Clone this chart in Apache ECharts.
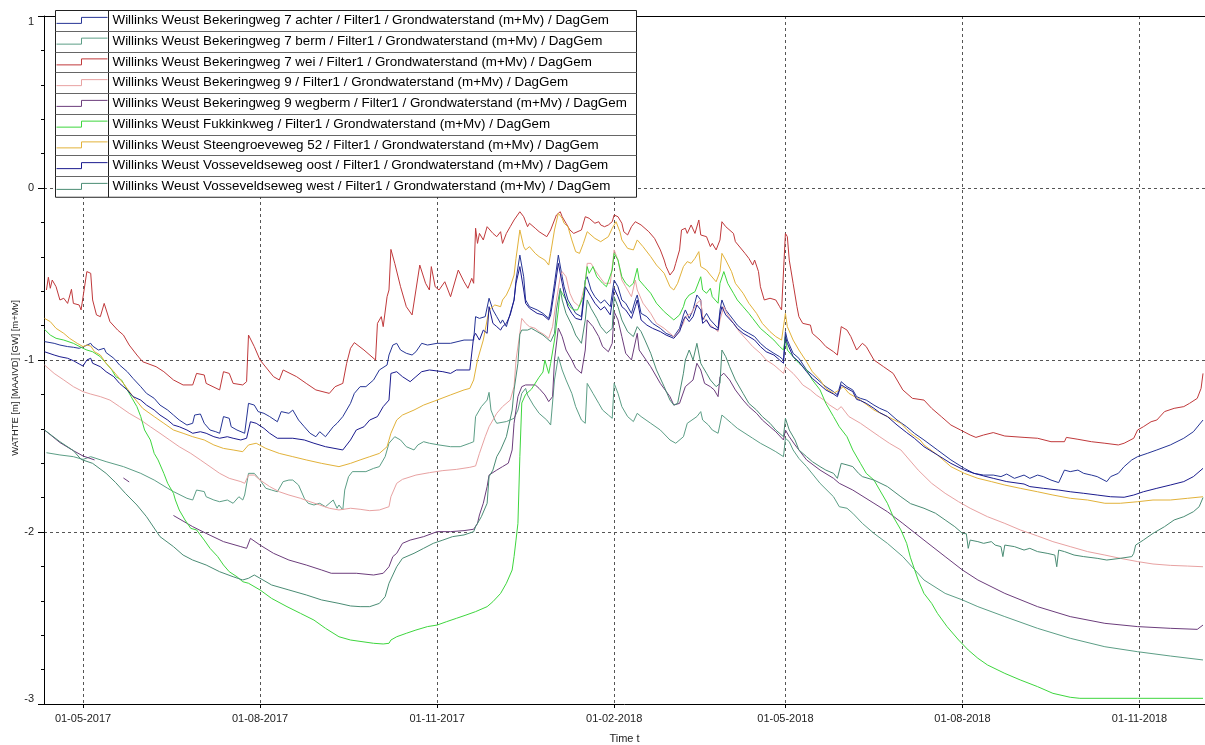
<!DOCTYPE html>
<html><head><meta charset="utf-8">
<script src="https://cdn.jsdelivr.net/npm/echarts@6/dist/echarts.min.js"></script>
<style>html,body{margin:0;padding:0;background:#fff}#chart{width:1205px;height:745px}</style>
</head><body><div id="chart"></div>
<script>
const seriesNames = [
 'Willinks Weust Bekeringweg 7 achter / Filter1 / Grondwaterstand (m+Mv) / DagGem',
 'Willinks Weust Bekeringweg 7 berm / Filter1 / Grondwaterstand (m+Mv) / DagGem',
 'Willinks Weust Bekeringweg 7 wei / Filter1 / Grondwaterstand (m+Mv) / DagGem',
 'Willinks Weust Bekeringweg 9 / Filter1 / Grondwaterstand (m+Mv) / DagGem',
 'Willinks Weust Bekeringweg 9 wegberm / Filter1 / Grondwaterstand (m+Mv) / DagGem',
 'Willinks Weust Fukkinkweg / Filter1 / Grondwaterstand (m+Mv) / DagGem',
 'Willinks Weust Steengroeveweg 52 / Filter1 / Grondwaterstand (m+Mv) / DagGem',
 'Willinks Weust Vosseveldseweg oost / Filter1 / Grondwaterstand (m+Mv) / DagGem',
 'Willinks Weust Vosseveldseweg west / Filter1 / Grondwaterstand (m+Mv) / DagGem'
];
const seriesColors = ['#263596','#5c9e86','#c0393b','#e8a2a2','#6c3d7c','#3ed63e','#e2b23a','#1b1b8e','#4a8c74'];

const achter = [['2017-04-11',-0.893],['2017-04-16',-0.903],['2017-04-19',-0.913],['2017-04-23',-0.922],['2017-04-26',-0.926],['2017-04-29',-0.932],['2017-05-02',-0.919],['2017-05-05',-0.903],['2017-05-06',-0.919],['2017-05-09',-0.942],['2017-05-12',-0.932],['2017-05-13',-0.957],['2017-05-17',-0.99],['2017-05-20',-1.029],['2017-05-24',-1.068],['2017-05-27',-1.107],['2017-05-31',-1.155],['2017-06-03',-1.194],['2017-06-07',-1.223],['2017-06-10',-1.262],['2017-06-14',-1.291],['2017-06-17',-1.32],['2017-06-20',-1.349],['2017-06-24',-1.378],['2017-06-27',-1.368],['2017-06-28',-1.32],['2017-07-01',-1.314],['2017-07-03',-1.368],['2017-07-06',-1.407],['2017-07-09',-1.417],['2017-07-11',-1.426],['2017-07-13',-1.329],['2017-07-16',-1.339],['2017-07-17',-1.388],['2017-07-20',-1.407],['2017-07-24',-1.426],['2017-07-26',-1.252],['2017-07-29',-1.262],['2017-07-31',-1.3],['2017-08-03',-1.31],['2017-08-06',-1.329],['2017-08-10',-1.359],['2017-08-12',-1.3],['2017-08-16',-1.31],['2017-08-18',-1.291],['2017-08-21',-1.349],['2017-08-24',-1.388],['2017-08-27',-1.426],['2017-08-30',-1.446],['2017-09-01',-1.417],['2017-09-04',-1.446],['2017-09-08',-1.388],['2017-09-10',-1.368],['2017-09-13',-1.329],['2017-09-17',-1.252],['2017-09-19',-1.194],['2017-09-22',-1.155],['2017-09-25',-1.155],['2017-09-29',-1.116],['2017-10-02',-1.058],['2017-10-06',-1.029],['2017-10-07',-0.971],['2017-10-09',-0.913],['2017-10-11',-0.903],['2017-10-13',-0.942],['2017-10-16',-0.961],['2017-10-19',-0.971],['2017-10-21',-0.952],['2017-10-24',-0.903],['2017-10-27',-0.913],['2017-11-01',-0.903],['2017-11-08',-0.903],['2017-11-15',-0.884],['2017-11-20',-0.884],['2017-11-21',-0.748],['2017-11-23',-0.758],['2017-11-26',-0.748],['2017-11-28',-0.641],['2017-11-30',-0.709],['2017-12-02',-0.748],['2017-12-04',-0.787],['2017-12-05',-0.767],['2017-12-07',-0.806],['2017-12-09',-0.729],['2017-12-11',-0.651],['2017-12-12',-0.535],['2017-12-14',-0.39],['2017-12-16',-0.516],['2017-12-17',-0.651],['2017-12-19',-0.69],['2017-12-23',-0.709],['2017-12-26',-0.729],['2017-12-29',-0.758],['2017-12-30',-0.709],['2018-01-01',-0.554],['2018-01-03',-0.39],['2018-01-05',-0.516],['2018-01-06',-0.574],['2018-01-08',-0.651],['2018-01-10',-0.69],['2018-01-12',-0.729],['2018-01-15',-0.748],['2018-01-17',-0.535],['2018-01-18',-0.516],['2018-01-20',-0.593],['2018-01-22',-0.632],['2018-01-25',-0.67],['2018-01-27',-0.651],['2018-01-30',-0.69],['2018-02-01',-0.535],['2018-02-03',-0.574],['2018-02-05',-0.651],['2018-02-07',-0.67],['2018-02-10',-0.729],['2018-02-12',-0.651],['2018-02-13',-0.622],['2018-02-15',-0.729],['2018-02-18',-0.748],['2018-02-21',-0.787],['2018-02-25',-0.816],['2018-02-28',-0.845],['2018-03-04',-0.864],['2018-03-07',-0.816],['2018-03-09',-0.738],['2018-03-10',-0.709],['2018-03-12',-0.758],['2018-03-14',-0.709],['2018-03-16',-0.622],['2018-03-18',-0.651],['2018-03-19',-0.767],['2018-03-21',-0.729],['2018-03-23',-0.767],['2018-03-27',-0.816],['2018-03-28',-0.709],['2018-03-29',-0.651],['2018-03-31',-0.709],['2018-04-04',-0.767],['2018-04-06',-0.797],['2018-04-09',-0.826],['2018-04-12',-0.845],['2018-04-15',-0.864],['2018-04-18',-0.903],['2018-04-21',-0.932],['2018-04-25',-0.961],['2018-04-28',-0.981],['2018-04-30',-1.0],['2018-05-01',-0.835],['2018-05-02',-0.884],['2018-05-05',-0.961],['2018-05-08',-0.99],['2018-05-12',-1.058],['2018-05-15',-1.087],['2018-05-19',-1.126],['2018-05-22',-1.155],['2018-05-26',-1.184],['2018-05-28',-1.203],['2018-05-30',-1.126],['2018-06-02',-1.155],['2018-06-05',-1.174],['2018-06-07',-1.213],['2018-06-09',-1.223],['2018-06-12',-1.233],['2018-06-16',-1.262],['2018-06-19',-1.281],['2018-06-23',-1.3],['2018-06-28',-1.349],['2018-07-03',-1.388],['2018-07-07',-1.426],['2018-07-12',-1.465],['2018-07-19',-1.523],['2018-07-26',-1.581],['2018-08-02',-1.63],['2018-08-07',-1.659],['2018-08-12',-1.669],['2018-08-17',-1.669],['2018-08-21',-1.678],['2018-08-24',-1.663],['2018-08-28',-1.688],['2018-09-02',-1.669],['2018-09-05',-1.688],['2018-09-09',-1.669],['2018-09-12',-1.678],['2018-09-16',-1.698],['2018-09-20',-1.713],['2018-09-23',-1.64],['2018-09-26',-1.649],['2018-09-30',-1.64],['2018-10-03',-1.659],['2018-10-07',-1.669],['2018-10-10',-1.678],['2018-10-15',-1.707],['2018-10-17',-1.678],['2018-10-21',-1.659],['2018-10-24',-1.62],['2018-10-28',-1.581],['2018-10-31',-1.562],['2018-11-05',-1.543],['2018-11-10',-1.523],['2018-11-17',-1.494],['2018-11-24',-1.455],['2018-11-29',-1.417],['2018-12-04',-1.349]];

const berm = [['2017-04-12',-1.539],['2017-04-19',-1.552],['2017-04-26',-1.562],['2017-05-01',-1.578],['2017-05-05',-1.562],['2017-05-06',-1.566],['2017-05-13',-1.591],['2017-05-22',-1.62],['2017-05-31',-1.659],['2017-06-07',-1.698],['2017-06-14',-1.746],['2017-06-17',-1.765],['2017-06-24',-1.804],['2017-06-27',-1.814],['2017-06-29',-1.756],['2017-07-03',-1.765],['2017-07-04',-1.795],['2017-07-08',-1.814],['2017-07-11',-1.824],['2017-07-15',-1.814],['2017-07-18',-1.833],['2017-07-21',-1.795],['2017-07-23',-1.814],['2017-07-24',-1.785],['2017-07-26',-1.659],['2017-07-29',-1.659],['2017-08-01',-1.698],['2017-08-04',-1.746],['2017-08-07',-1.756],['2017-08-10',-1.766],['2017-08-13',-1.707],['2017-08-16',-1.698],['2017-08-18',-1.698],['2017-08-21',-1.727],['2017-08-24',-1.804],['2017-08-26',-1.833],['2017-08-29',-1.843],['2017-09-01',-1.833],['2017-09-04',-1.853],['2017-09-08',-1.814],['2017-09-10',-1.862],['2017-09-11',-1.843],['2017-09-13',-1.872],['2017-09-14',-1.756],['2017-09-16',-1.678],['2017-09-18',-1.649],['2017-09-25',-1.649],['2017-09-29',-1.63],['2017-10-02',-1.62],['2017-10-05',-1.562],['2017-10-07',-1.484],['2017-10-10',-1.446],['2017-10-13',-1.465],['2017-10-16',-1.504],['2017-10-20',-1.523],['2017-10-22',-1.494],['2017-10-25',-1.475],['2017-10-28',-1.484],['2017-11-02',-1.494],['2017-11-08',-1.504],['2017-11-13',-1.504],['2017-11-18',-1.484],['2017-11-20',-1.475],['2017-11-21',-1.329],['2017-11-24',-1.271],['2017-11-27',-1.233],['2017-11-28',-1.188],['2017-11-29',-1.291],['2017-12-01',-1.349],['2017-12-02',-1.368],['2017-12-07',-1.358],['2017-12-11',-1.339],['2017-12-13',-1.291],['2017-12-15',-1.194],['2017-12-17',-1.165],['2017-12-18',-1.204],['2017-12-21',-1.262],['2017-12-24',-1.31],['2017-12-28',-1.349],['2017-12-30',-1.378],['2018-01-01',-1.116],['2018-01-03',-0.981],['2018-01-05',-1.058],['2018-01-07',-1.116],['2018-01-10',-1.194],['2018-01-12',-1.271],['2018-01-15',-1.349],['2018-01-17',-1.368],['2018-01-18',-1.136],['2018-01-21',-1.194],['2018-01-24',-1.252],['2018-01-26',-1.291],['2018-01-29',-1.32],['2018-01-31',-1.339],['2018-02-01',-1.136],['2018-02-03',-1.194],['2018-02-05',-1.271],['2018-02-08',-1.329],['2018-02-11',-1.358],['2018-02-13',-1.31],['2018-02-15',-1.329],['2018-02-20',-1.368],['2018-02-25',-1.407],['2018-03-02',-1.465],['2018-03-05',-1.484],['2018-03-09',-1.446],['2018-03-11',-1.368],['2018-03-16',-1.329],['2018-03-18',-1.3],['2018-03-19',-1.349],['2018-03-22',-1.378],['2018-03-24',-1.407],['2018-03-27',-1.426],['2018-03-29',-1.32],['2018-03-31',-1.339],['2018-04-03',-1.368],['2018-04-06',-1.397],['2018-04-10',-1.426],['2018-04-14',-1.455],['2018-04-18',-1.484],['2018-04-23',-1.514],['2018-04-26',-1.533],['2018-04-30',-1.562],['2018-05-01',-1.455],['2018-05-03',-1.475],['2018-05-05',-1.523],['2018-05-08',-1.572],['2018-05-12',-1.62],['2018-05-19',-1.717],['2018-05-26',-1.795],['2018-05-29',-1.853],['2018-06-02',-1.862],['2018-06-05',-1.891],['2018-06-10',-1.95],['2018-06-16',-2.008],['2018-06-23',-2.066],['2018-07-01',-2.143],['2018-07-12',-2.279],['2018-07-23',-2.357],['2018-08-01',-2.395],['2018-08-09',-2.434],['2018-08-23',-2.492],['2018-09-09',-2.56],['2018-09-26',-2.618],['2018-10-14',-2.667],['2018-10-31',-2.696],['2018-11-17',-2.721],['2018-12-04',-2.744]];

const wei = [['2017-04-12',-0.593],['2017-04-13',-0.519],['2017-04-14',-0.583],['2017-04-15',-0.535],['2017-04-16',-0.525],['2017-04-17',-0.574],['2017-04-19',-0.651],['2017-04-21',-0.641],['2017-04-23',-0.671],['2017-04-25',-0.589],['2017-04-26',-0.671],['2017-04-29',-0.68],['2017-04-30',-0.709],['2017-05-03',-0.486],['2017-05-05',-0.496],['2017-05-06',-0.651],['2017-05-08',-0.738],['2017-05-10',-0.748],['2017-05-12',-0.671],['2017-05-13',-0.68],['2017-05-15',-0.777],['2017-05-19',-0.826],['2017-05-22',-0.855],['2017-05-25',-0.913],['2017-05-29',-0.971],['2017-06-01',-1.01],['2017-06-08',-1.039],['2017-06-12',-1.068],['2017-06-17',-1.116],['2017-06-22',-1.145],['2017-06-27',-1.145],['2017-06-29',-1.078],['2017-07-03',-1.087],['2017-07-04',-1.136],['2017-07-11',-1.174],['2017-07-13',-1.068],['2017-07-16',-1.078],['2017-07-18',-1.136],['2017-07-23',-1.145],['2017-07-25',-1.126],['2017-07-26',-0.855],['2017-07-29',-0.922],['2017-08-01',-1.0],['2017-08-08',-1.097],['2017-08-11',-1.116],['2017-08-13',-1.058],['2017-08-20',-1.097],['2017-08-25',-1.136],['2017-08-30',-1.174],['2017-09-06',-1.194],['2017-09-09',-1.155],['2017-09-13',-1.136],['2017-09-15',-1.019],['2017-09-17',-0.932],['2017-09-19',-0.899],['2017-09-24',-0.942],['2017-09-30',-1.0],['2017-10-01',-0.787],['2017-10-03',-0.748],['2017-10-04',-0.806],['2017-10-06',-0.632],['2017-10-07',-0.593],['2017-10-08',-0.357],['2017-10-10',-0.438],['2017-10-13',-0.574],['2017-10-16',-0.69],['2017-10-19',-0.738],['2017-10-21',-0.593],['2017-10-23',-0.448],['2017-10-26',-0.554],['2017-10-28',-0.593],['2017-10-29',-0.457],['2017-10-31',-0.574],['2017-11-02',-0.593],['2017-11-05',-0.545],['2017-11-08',-0.632],['2017-11-09',-0.636],['2017-11-12',-0.477],['2017-11-15',-0.545],['2017-11-17',-0.583],['2017-11-19',-0.525],['2017-11-20',-0.554],['2017-11-21',-0.234],['2017-11-22',-0.322],['2017-11-23',-0.264],['2017-11-25',-0.302],['2017-11-27',-0.225],['2017-11-28',-0.215],['2017-11-30',-0.264],['2017-12-02',-0.283],['2017-12-04',-0.254],['2017-12-05',-0.322],['2017-12-07',-0.264],['2017-12-09',-0.225],['2017-12-11',-0.186],['2017-12-12',-0.176],['2017-12-14',-0.138],['2017-12-16',-0.167],['2017-12-18',-0.225],['2017-12-19',-0.205],['2017-12-22',-0.234],['2017-12-24',-0.254],['2017-12-28',-0.283],['2017-12-30',-0.244],['2018-01-02',-0.157],['2018-01-04',-0.138],['2018-01-05',-0.167],['2018-01-07',-0.205],['2018-01-09',-0.244],['2018-01-11',-0.264],['2018-01-12',-0.273],['2018-01-15',-0.244],['2018-01-17',-0.167],['2018-01-19',-0.176],['2018-01-22',-0.205],['2018-01-24',-0.196],['2018-01-25',-0.215],['2018-01-27',-0.225],['2018-01-29',-0.215],['2018-01-31',-0.196],['2018-02-01',-0.157],['2018-02-03',-0.167],['2018-02-05',-0.205],['2018-02-06',-0.254],['2018-02-08',-0.273],['2018-02-10',-0.225],['2018-02-12',-0.196],['2018-02-15',-0.215],['2018-02-19',-0.254],['2018-02-22',-0.293],['2018-02-25',-0.36],['2018-02-27',-0.419],['2018-02-28',-0.457],['2018-03-02',-0.506],['2018-03-04',-0.477],['2018-03-05',-0.438],['2018-03-07',-0.36],['2018-03-08',-0.244],['2018-03-10',-0.234],['2018-03-11',-0.264],['2018-03-13',-0.215],['2018-03-15',-0.264],['2018-03-17',-0.186],['2018-03-18',-0.273],['2018-03-21',-0.283],['2018-03-23',-0.341],['2018-03-24',-0.322],['2018-03-26',-0.36],['2018-03-28',-0.302],['2018-03-29',-0.196],['2018-03-31',-0.225],['2018-04-04',-0.264],['2018-04-05',-0.312],['2018-04-10',-0.38],['2018-04-12',-0.409],['2018-04-14',-0.448],['2018-04-15',-0.419],['2018-04-17',-0.486],['2018-04-18',-0.574],['2018-04-20',-0.651],['2018-04-23',-0.641],['2018-04-26',-0.651],['2018-04-28',-0.69],['2018-04-29',-0.709],['2018-05-01',-0.264],['2018-05-02',-0.283],['2018-05-03',-0.419],['2018-05-05',-0.554],['2018-05-07',-0.69],['2018-05-08',-0.748],['2018-05-10',-0.787],['2018-05-14',-0.797],['2018-05-15',-0.845],['2018-05-19',-0.884],['2018-05-22',-0.922],['2018-05-26',-0.952],['2018-05-28',-0.971],['2018-05-30',-0.806],['2018-06-02',-0.826],['2018-06-04',-0.864],['2018-06-07',-0.942],['2018-06-10',-0.903],['2018-06-12',-0.922],['2018-06-16',-1.0],['2018-06-21',-1.039],['2018-06-26',-1.078],['2018-07-01',-1.174],['2018-07-06',-1.223],['2018-07-12',-1.233],['2018-07-16',-1.281],['2018-07-21',-1.329],['2018-07-26',-1.378],['2018-07-31',-1.407],['2018-08-05',-1.436],['2018-08-08',-1.45],['2018-08-12',-1.436],['2018-08-17',-1.422],['2018-08-23',-1.442],['2018-09-02',-1.45],['2018-09-09',-1.455],['2018-09-16',-1.475],['2018-09-23',-1.475],['2018-09-24',-1.45],['2018-09-30',-1.461],['2018-10-07',-1.475],['2018-10-14',-1.484],['2018-10-21',-1.494],['2018-10-24',-1.484],['2018-10-29',-1.455],['2018-10-31',-1.407],['2018-11-03',-1.388],['2018-11-07',-1.359],['2018-11-10',-1.349],['2018-11-14',-1.3],['2018-11-19',-1.281],['2018-11-24',-1.271],['2018-11-27',-1.252],['2018-12-01',-1.223],['2018-12-03',-1.165],['2018-12-04',-1.078]];

const bek9 = [['2017-04-11',-1.029],['2017-04-16',-1.078],['2017-04-21',-1.116],['2017-04-26',-1.155],['2017-05-01',-1.184],['2017-05-05',-1.198],['2017-05-10',-1.213],['2017-05-15',-1.233],['2017-05-20',-1.271],['2017-05-25',-1.31],['2017-05-31',-1.349],['2017-06-05',-1.388],['2017-06-10',-1.426],['2017-06-15',-1.465],['2017-06-20',-1.504],['2017-06-26',-1.543],['2017-07-01',-1.581],['2017-07-06',-1.62],['2017-07-11',-1.659],['2017-07-16',-1.688],['2017-07-22',-1.707],['2017-07-24',-1.717],['2017-07-26',-1.669],['2017-07-29',-1.669],['2017-08-01',-1.698],['2017-08-06',-1.736],['2017-08-11',-1.766],['2017-08-16',-1.785],['2017-08-22',-1.804],['2017-08-27',-1.824],['2017-09-01',-1.843],['2017-09-06',-1.862],['2017-09-11',-1.872],['2017-09-17',-1.862],['2017-09-22',-1.868],['2017-09-27',-1.876],['2017-10-02',-1.872],['2017-10-07',-1.853],['2017-10-08',-1.795],['2017-10-11',-1.717],['2017-10-14',-1.694],['2017-10-21',-1.669],['2017-10-28',-1.655],['2017-11-04',-1.643],['2017-11-11',-1.636],['2017-11-18',-1.624],['2017-11-21',-1.616],['2017-11-23',-1.543],['2017-11-26',-1.446],['2017-11-28',-1.388],['2017-12-02',-1.31],['2017-12-05',-1.271],['2017-12-09',-1.233],['2017-12-11',-1.155],['2017-12-12',-1.0],['2017-12-14',-0.845],['2017-12-15',-0.758],['2017-12-17',-0.787],['2017-12-19',-0.806],['2017-12-22',-0.816],['2017-12-24',-0.835],['2017-12-27',-0.855],['2017-12-29',-0.874],['2017-12-31',-0.806],['2018-01-02',-0.651],['2018-01-04',-0.516],['2018-01-05',-0.486],['2018-01-07',-0.516],['2018-01-09',-0.612],['2018-01-11',-0.661],['2018-01-14',-0.69],['2018-01-17',-0.554],['2018-01-18',-0.438],['2018-01-20',-0.438],['2018-01-22',-0.477],['2018-01-25',-0.525],['2018-01-27',-0.554],['2018-01-30',-0.554],['2018-02-01',-0.36],['2018-02-03',-0.419],['2018-02-05',-0.535],['2018-02-07',-0.574],['2018-02-10',-0.632],['2018-02-12',-0.535],['2018-02-13',-0.593],['2018-02-16',-0.67],['2018-02-20',-0.729],['2018-02-23',-0.787],['2018-02-27',-0.816],['2018-03-02',-0.845],['2018-03-04',-0.864],['2018-03-06',-0.845],['2018-03-09',-0.787],['2018-03-10',-0.748],['2018-03-13',-0.729],['2018-03-16',-0.67],['2018-03-18',-0.651],['2018-03-19',-0.748],['2018-03-22',-0.787],['2018-03-24',-0.806],['2018-03-27',-0.835],['2018-03-28',-0.767],['2018-03-30',-0.69],['2018-04-01',-0.738],['2018-04-04',-0.787],['2018-04-07',-0.835],['2018-04-11',-0.884],['2018-04-14',-0.922],['2018-04-18',-0.961],['2018-04-21',-1.0],['2018-04-25',-1.029],['2018-04-28',-1.058],['2018-04-30',-1.078],['2018-05-01',-1.039],['2018-05-02',-1.048],['2018-05-05',-1.078],['2018-05-08',-1.116],['2018-05-10',-1.145],['2018-05-14',-1.174],['2018-05-17',-1.203],['2018-05-21',-1.233],['2018-05-24',-1.262],['2018-05-28',-1.291],['2018-05-30',-1.271],['2018-06-03',-1.329],['2018-06-09',-1.368],['2018-06-14',-1.407],['2018-06-19',-1.446],['2018-06-24',-1.484],['2018-06-30',-1.523],['2018-07-09',-1.64],['2018-07-16',-1.717],['2018-07-23',-1.775],['2018-07-30',-1.824],['2018-08-05',-1.862],['2018-08-14',-1.911],['2018-08-23',-1.95],['2018-08-31',-1.988],['2018-09-09',-2.023],['2018-09-17',-2.056],['2018-09-26',-2.085],['2018-10-05',-2.114],['2018-10-14',-2.134],['2018-10-22',-2.153],['2018-10-31',-2.172],['2018-11-08',-2.186],['2018-11-17',-2.194],['2018-11-26',-2.198],['2018-12-04',-2.202]];

const wegberm = [['2017-04-11',-1.407],['2017-04-19',-1.48],['2017-04-26',-1.527],['2017-05-01',-1.558],['2017-05-07',-1.581],['2017-05-14','-'],['2017-05-22',-1.686],['2017-05-25',-1.709],['2017-06-05','-'],['2017-06-17',-1.904],['2017-06-27',-1.969],['2017-07-04',-2.008],['2017-07-13',-2.056],['2017-07-22',-2.085],['2017-07-25',-2.095],['2017-07-27',-2.037],['2017-08-01',-2.076],['2017-08-08',-2.124],['2017-08-16',-2.163],['2017-08-25',-2.192],['2017-09-02',-2.221],['2017-09-07',-2.24],['2017-09-20',-2.24],['2017-09-29',-2.25],['2017-10-04',-2.24],['2017-10-07',-2.202],['2017-10-09',-2.143],['2017-10-11',-2.124],['2017-10-14',-2.066],['2017-10-18',-2.047],['2017-10-25',-2.027],['2017-11-01',-1.998],['2017-11-08',-1.998],['2017-11-15',-1.992],['2017-11-20',-1.984],['2017-11-22',-1.95],['2017-11-23',-1.901],['2017-11-25',-1.833],['2017-11-27',-1.736],['2017-11-28',-1.669],['2017-12-02',-1.64],['2017-12-05',-1.62],['2017-12-08',-1.6],['2017-12-10',-1.523],['2017-12-11',-1.368],['2017-12-13',-1.213],['2017-12-15',-1.155],['2017-12-17',-1.145],['2017-12-22',-1.145],['2017-12-24',-1.165],['2017-12-27',-1.203],['2017-12-29',-1.242],['2017-12-31',-1.213],['2018-01-01',-1.0],['2018-01-03',-0.814],['2018-01-05',-0.864],['2018-01-07',-0.942],['2018-01-10',-1.0],['2018-01-12',-1.048],['2018-01-15',-1.077],['2018-01-17',-0.942],['2018-01-18',-0.767],['2018-01-21',-0.806],['2018-01-24',-0.864],['2018-01-26',-0.922],['2018-01-29',-0.952],['2018-01-31',-0.903],['2018-02-01',-0.719],['2018-02-03',-0.767],['2018-02-05',-0.864],['2018-02-07',-0.961],['2018-02-10',-1.0],['2018-02-13',-0.845],['2018-02-14',-0.942],['2018-02-20',-1.039],['2018-02-25',-1.136],['2018-03-02',-1.213],['2018-03-04',-1.262],['2018-03-07',-1.252],['2018-03-10',-1.155],['2018-03-14',-1.116],['2018-03-16',-1.019],['2018-03-18',-1.058],['2018-03-20',-1.136],['2018-03-23',-1.155],['2018-03-25',-1.174],['2018-03-27',-1.213],['2018-03-28',-1.097],['2018-03-30',-1.077],['2018-04-02',-1.116],['2018-04-05',-1.174],['2018-04-09',-1.233],['2018-04-12',-1.271],['2018-04-16',-1.31],['2018-04-19',-1.349],['2018-04-23',-1.388],['2018-04-26',-1.417],['2018-04-30',-1.465],['2018-05-01',-1.407],['2018-05-03',-1.446],['2018-05-06',-1.494],['2018-05-12',-1.581],['2018-05-19',-1.64],['2018-05-26',-1.688],['2018-05-29',-1.717],['2018-06-05',-1.756],['2018-06-16',-1.833],['2018-06-23',-1.882],['2018-07-01',-1.95],['2018-07-12',-2.047],['2018-07-23',-2.143],['2018-08-01',-2.221],['2018-08-09',-2.279],['2018-08-23',-2.357],['2018-09-09',-2.434],['2018-09-26',-2.492],['2018-10-14',-2.531],['2018-10-31',-2.55],['2018-11-17',-2.56],['2018-12-01',-2.566],['2018-12-04',-2.541]];

const fukkink = [['2017-04-11',-0.822],['2017-04-14',-0.855],['2017-04-17',-0.874],['2017-04-21',-0.884],['2017-04-26',-0.903],['2017-05-01',-0.932],['2017-05-03',-0.942],['2017-05-06',-0.952],['2017-05-10',-0.981],['2017-05-13',-1.019],['2017-05-16',-1.058],['2017-05-18',-1.097],['2017-05-21',-1.116],['2017-05-24',-1.174],['2017-05-26',-1.213],['2017-05-29',-1.271],['2017-05-31',-1.329],['2017-06-02',-1.407],['2017-06-05',-1.465],['2017-06-07',-1.543],['2017-06-09',-1.581],['2017-06-12',-1.659],['2017-06-14',-1.717],['2017-06-17',-1.775],['2017-06-18',-1.814],['2017-06-20',-1.872],['2017-06-23',-1.93],['2017-06-26',-1.979],['2017-06-29',-1.988],['2017-07-03',-2.047],['2017-07-06',-2.095],['2017-07-10',-2.143],['2017-07-13',-2.192],['2017-07-16',-2.231],['2017-07-20',-2.26],['2017-07-23',-2.289],['2017-07-26',-2.298],['2017-08-01',-2.337],['2017-08-07',-2.386],['2017-08-15',-2.434],['2017-08-22',-2.473],['2017-08-29',-2.512],['2017-09-04',-2.56],['2017-09-11',-2.609],['2017-09-17',-2.628],['2017-09-29',-2.647],['2017-10-04',-2.651],['2017-10-07',-2.647],['2017-10-08',-2.628],['2017-10-11',-2.609],['2017-10-16',-2.589],['2017-10-21',-2.57],['2017-10-27',-2.55],['2017-11-01',-2.541],['2017-11-06',-2.521],['2017-11-11',-2.502],['2017-11-16',-2.483],['2017-11-21',-2.463],['2017-11-27',-2.434],['2017-11-30',-2.405],['2017-12-04',-2.357],['2017-12-07',-2.298],['2017-12-10',-2.221],['2017-12-11',-2.143],['2017-12-12',-2.047],['2017-12-13',-1.95],['2017-12-14',-1.562],['2017-12-15',-1.25],['2017-12-17',-1.2],['2017-12-20',-1.17],['2017-12-24',-1.1],['2017-12-26',-1.07],['2017-12-27',-1.0],['2017-12-29',-1.078],['2017-12-30',-1.019],['2018-01-01',-0.884],['2018-01-03',-0.709],['2018-01-04',-0.593],['2018-01-05',-0.612],['2018-01-07',-0.651],['2018-01-09',-0.69],['2018-01-11',-0.709],['2018-01-13',-0.709],['2018-01-16',-0.632],['2018-01-18',-0.457],['2018-01-19',-0.496],['2018-01-21',-0.457],['2018-01-23',-0.516],['2018-01-26',-0.554],['2018-01-28',-0.574],['2018-01-31',-0.477],['2018-02-01',-0.38],['2018-02-03',-0.419],['2018-02-05',-0.516],['2018-02-07',-0.554],['2018-02-09',-0.574],['2018-02-11',-0.554],['2018-02-13',-0.467],['2018-02-14',-0.535],['2018-02-17',-0.574],['2018-02-20',-0.612],['2018-02-23',-0.67],['2018-02-27',-0.719],['2018-03-02',-0.748],['2018-03-04',-0.767],['2018-03-07',-0.738],['2018-03-09',-0.69],['2018-03-10',-0.651],['2018-03-12',-0.622],['2018-03-15',-0.603],['2018-03-18',-0.516],['2018-03-19',-0.593],['2018-03-21',-0.612],['2018-03-23',-0.583],['2018-03-24',-0.632],['2018-03-27',-0.67],['2018-03-28',-0.554],['2018-03-30',-0.486],['2018-04-01',-0.554],['2018-04-04',-0.612],['2018-04-06',-0.651],['2018-04-09',-0.69],['2018-04-12',-0.729],['2018-04-14',-0.758],['2018-04-18',-0.816],['2018-04-21',-0.845],['2018-04-25',-0.884],['2018-04-28',-0.922],['2018-04-30',-0.942],['2018-05-01',-0.864],['2018-05-02',-0.942],['2018-05-05',-0.981],['2018-05-08',-1.019],['2018-05-12',-1.058],['2018-05-15',-1.116],['2018-05-19',-1.174],['2018-05-22',-1.252],['2018-05-26',-1.329],['2018-05-29',-1.388],['2018-06-02',-1.446],['2018-06-05',-1.523],['2018-06-09',-1.601],['2018-06-12',-1.659],['2018-06-16',-1.698],['2018-06-19',-1.756],['2018-06-23',-1.833],['2018-06-26',-1.911],['2018-06-30',-1.988],['2018-07-03',-2.066],['2018-07-05',-2.15],['2018-07-09',-2.279],['2018-07-12',-2.357],['2018-07-16',-2.415],['2018-07-19',-2.473],['2018-07-24',-2.55],['2018-07-30',-2.628],['2018-08-04',-2.686],['2018-08-09',-2.734],['2018-08-14',-2.773],['2018-08-23',-2.822],['2018-08-31',-2.86],['2018-09-09',-2.899],['2018-09-17',-2.938],['2018-09-26',-2.961],['2018-10-01',-2.967],['2018-10-31',-2.967],['2018-12-04',-2.967]];

const steengroeve = [['2017-04-11',-0.758],['2017-04-14',-0.777],['2017-04-17',-0.816],['2017-04-21',-0.845],['2017-04-24',-0.874],['2017-04-28',-0.903],['2017-05-01',-0.922],['2017-05-03',-0.913],['2017-05-05',-0.919],['2017-05-07',-0.952],['2017-05-10',-0.971],['2017-05-13',-1.019],['2017-05-17',-1.068],['2017-05-22',-1.136],['2017-05-27',-1.213],['2017-06-01',-1.281],['2017-06-07',-1.329],['2017-06-12',-1.368],['2017-06-17',-1.407],['2017-06-22',-1.426],['2017-06-27',-1.446],['2017-07-03',-1.465],['2017-07-08',-1.494],['2017-07-13',-1.514],['2017-07-18',-1.523],['2017-07-23',-1.533],['2017-07-26',-1.494],['2017-07-30',-1.484],['2017-08-04',-1.514],['2017-08-11',-1.543],['2017-08-18',-1.562],['2017-08-25',-1.581],['2017-09-02',-1.601],['2017-09-11',-1.62],['2017-09-17',-1.601],['2017-09-22',-1.581],['2017-09-27',-1.562],['2017-10-02',-1.543],['2017-10-06',-1.504],['2017-10-08',-1.426],['2017-10-11',-1.349],['2017-10-14',-1.32],['2017-10-20',-1.291],['2017-10-25',-1.262],['2017-11-01',-1.233],['2017-11-08',-1.203],['2017-11-15',-1.174],['2017-11-18',-1.165],['2017-11-20',-1.116],['2017-11-22',-1.0],['2017-11-25',-0.884],['2017-11-28',-0.709],['2017-12-01',-0.68],['2017-12-04',-0.69],['2017-12-05',-0.651],['2017-12-07',-0.622],['2017-12-09',-0.574],['2017-12-11',-0.506],['2017-12-12',-0.409],['2017-12-14',-0.244],['2017-12-16',-0.341],['2017-12-17',-0.36],['2017-12-19',-0.341],['2017-12-22',-0.38],['2017-12-24',-0.399],['2017-12-27',-0.419],['2017-12-29',-0.448],['2017-12-30',-0.38],['2018-01-01',-0.244],['2018-01-03',-0.147],['2018-01-05',-0.176],['2018-01-06',-0.205],['2018-01-08',-0.225],['2018-01-10',-0.302],['2018-01-12',-0.37],['2018-01-14',-0.38],['2018-01-16',-0.322],['2018-01-18',-0.254],['2018-01-19',-0.264],['2018-01-22',-0.293],['2018-01-25',-0.312],['2018-01-26',-0.322],['2018-01-29',-0.283],['2018-01-31',-0.234],['2018-02-02',-0.196],['2018-02-04',-0.254],['2018-02-05',-0.302],['2018-02-08',-0.351],['2018-02-11',-0.36],['2018-02-13',-0.302],['2018-02-16',-0.341],['2018-02-20',-0.399],['2018-02-23',-0.448],['2018-02-27',-0.496],['2018-03-02',-0.574],['2018-03-04',-0.593],['2018-03-06',-0.554],['2018-03-09',-0.457],['2018-03-11',-0.428],['2018-03-13',-0.438],['2018-03-15',-0.409],['2018-03-17',-0.37],['2018-03-18',-0.457],['2018-03-21',-0.477],['2018-03-23',-0.506],['2018-03-26',-0.545],['2018-03-28',-0.486],['2018-03-29',-0.38],['2018-03-31',-0.419],['2018-04-03',-0.486],['2018-04-05',-0.554],['2018-04-09',-0.612],['2018-04-12',-0.67],['2018-04-16',-0.729],['2018-04-19',-0.787],['2018-04-23',-0.835],['2018-04-26',-0.864],['2018-04-29',-0.884],['2018-05-01',-0.729],['2018-05-02',-0.806],['2018-05-05',-0.884],['2018-05-08',-0.942],['2018-05-12',-1.01],['2018-05-15',-1.068],['2018-05-19',-1.116],['2018-05-22',-1.165],['2018-05-26',-1.194],['2018-05-29',-1.174],['2018-05-31',-1.155],['2018-06-03',-1.194],['2018-06-09',-1.233],['2018-06-16',-1.291],['2018-06-23',-1.329],['2018-06-30',-1.368],['2018-07-05',-1.426],['2018-07-10',-1.465],['2018-07-12',-1.494],['2018-07-19',-1.552],['2018-07-26',-1.62],['2018-08-02',-1.659],['2018-08-09',-1.688],['2018-08-16',-1.707],['2018-08-23',-1.727],['2018-08-31',-1.746],['2018-09-09',-1.766],['2018-09-17',-1.785],['2018-09-26',-1.804],['2018-10-05',-1.814],['2018-10-14',-1.833],['2018-10-22',-1.833],['2018-10-31',-1.824],['2018-11-08',-1.814],['2018-11-17',-1.814],['2018-11-26',-1.804],['2018-12-04',-1.795]];

const oost = [['2017-04-11',-0.952],['2017-04-16',-0.971],['2017-04-19',-0.981],['2017-04-23',-0.99],['2017-04-26',-1.004],['2017-04-29',-1.023],['2017-05-01',-1.035],['2017-05-03',-1.0],['2017-05-05',-0.99],['2017-05-06',-1.019],['2017-05-10',-1.039],['2017-05-13',-1.068],['2017-05-17',-1.097],['2017-05-20',-1.136],['2017-05-24',-1.174],['2017-05-27',-1.213],['2017-05-31',-1.233],['2017-06-03',-1.262],['2017-06-07',-1.291],['2017-06-10',-1.32],['2017-06-14',-1.349],['2017-06-17',-1.378],['2017-06-20',-1.388],['2017-06-24',-1.407],['2017-06-27',-1.426],['2017-07-01',-1.417],['2017-07-04',-1.426],['2017-07-08',-1.446],['2017-07-11',-1.455],['2017-07-15',-1.446],['2017-07-18',-1.455],['2017-07-22',-1.465],['2017-07-25',-1.455],['2017-07-27',-1.359],['2017-07-30',-1.368],['2017-08-03',-1.397],['2017-08-06',-1.426],['2017-08-10',-1.455],['2017-08-18',-1.455],['2017-08-24',-1.465],['2017-08-29',-1.484],['2017-09-04',-1.504],['2017-09-13',-1.523],['2017-09-17',-1.465],['2017-09-20',-1.407],['2017-09-24',-1.388],['2017-09-27',-1.349],['2017-10-01',-1.329],['2017-10-04',-1.271],['2017-10-07',-1.233],['2017-10-08',-1.078],['2017-10-11',-1.068],['2017-10-14',-1.097],['2017-10-18',-1.126],['2017-10-21',-1.097],['2017-10-24',-1.068],['2017-10-28',-1.058],['2017-11-04',-1.068],['2017-11-08',-1.078],['2017-11-11',-1.058],['2017-11-18',-1.058],['2017-11-20',-0.864],['2017-11-21',-0.845],['2017-11-23',-0.884],['2017-11-25',-0.826],['2017-11-27',-0.845],['2017-11-28',-0.69],['2017-11-30',-0.787],['2017-12-02',-0.806],['2017-12-04',-0.826],['2017-12-05',-0.806],['2017-12-07',-0.787],['2017-12-09',-0.738],['2017-12-11',-0.651],['2017-12-12',-0.554],['2017-12-14',-0.457],['2017-12-16',-0.593],['2017-12-17',-0.67],['2017-12-19',-0.699],['2017-12-23',-0.729],['2017-12-26',-0.738],['2017-12-29',-0.767],['2017-12-30',-0.738],['2018-01-01',-0.593],['2018-01-03',-0.438],['2018-01-05',-0.554],['2018-01-06',-0.612],['2018-01-08',-0.69],['2018-01-10',-0.729],['2018-01-12',-0.758],['2018-01-15',-0.767],['2018-01-17',-0.574],['2018-01-18',-0.574],['2018-01-20',-0.632],['2018-01-22',-0.67],['2018-01-25',-0.709],['2018-01-27',-0.69],['2018-01-30',-0.738],['2018-02-01',-0.583],['2018-02-03',-0.632],['2018-02-05',-0.69],['2018-02-07',-0.709],['2018-02-10',-0.758],['2018-02-12',-0.69],['2018-02-13',-0.651],['2018-02-15',-0.767],['2018-02-18',-0.797],['2018-02-21',-0.816],['2018-02-25',-0.835],['2018-02-28',-0.855],['2018-03-04',-0.874],['2018-03-07',-0.835],['2018-03-09',-0.767],['2018-03-10',-0.748],['2018-03-12',-0.777],['2018-03-14',-0.748],['2018-03-16',-0.68],['2018-03-18',-0.709],['2018-03-19',-0.787],['2018-03-21',-0.767],['2018-03-23',-0.806],['2018-03-27',-0.826],['2018-03-28',-0.738],['2018-03-29',-0.69],['2018-03-31',-0.738],['2018-04-04',-0.787],['2018-04-06',-0.816],['2018-04-09',-0.845],['2018-04-12',-0.864],['2018-04-15',-0.884],['2018-04-18',-0.922],['2018-04-21',-0.952],['2018-04-25',-0.971],['2018-04-28',-1.0],['2018-04-30',-1.019],['2018-05-01',-0.864],['2018-05-02',-0.903],['2018-05-05',-0.981],['2018-05-08',-1.01],['2018-05-12',-1.068],['2018-05-15',-1.107],['2018-05-19',-1.145],['2018-05-22',-1.174],['2018-05-26',-1.198],['2018-05-28',-1.213],['2018-05-30',-1.145],['2018-06-02',-1.165],['2018-06-05',-1.184],['2018-06-07',-1.229],['2018-06-09',-1.236],['2018-06-12',-1.252],['2018-06-16',-1.281],['2018-06-19',-1.306],['2018-06-23',-1.329],['2018-06-28',-1.378],['2018-07-03',-1.422],['2018-07-07',-1.455],['2018-07-12',-1.504],['2018-07-19',-1.552],['2018-07-26',-1.601],['2018-08-02',-1.64],['2018-08-07',-1.659],['2018-08-12',-1.674],['2018-08-17',-1.688],['2018-08-24',-1.707],['2018-09-02',-1.721],['2018-09-05',-1.736],['2018-09-12',-1.746],['2018-09-20',-1.756],['2018-09-26',-1.766],['2018-10-03',-1.775],['2018-10-10',-1.785],['2018-10-17',-1.795],['2018-10-24',-1.798],['2018-10-29',-1.785],['2018-11-03',-1.766],['2018-11-10',-1.746],['2018-11-17',-1.727],['2018-11-24',-1.707],['2018-11-29',-1.678],['2018-12-04',-1.63]];

const west = [['2017-04-11',-1.407],['2017-04-19',-1.475],['2017-04-26',-1.527],['2017-04-30',-1.578],['2017-05-06',-1.601],['2017-05-13',-1.659],['2017-05-18',-1.713],['2017-05-23',-1.775],['2017-05-29',-1.843],['2017-06-03',-1.911],['2017-06-10',-2.027],['2017-06-17',-2.085],['2017-06-22',-2.134],['2017-06-27',-2.163],['2017-07-04',-2.192],['2017-07-11',-2.231],['2017-07-18',-2.26],['2017-07-23',-2.279],['2017-07-26',-2.269],['2017-07-29',-2.25],['2017-08-01',-2.269],['2017-08-07',-2.308],['2017-08-16',-2.337],['2017-08-25',-2.366],['2017-09-02',-2.395],['2017-09-11',-2.415],['2017-09-17',-2.43],['2017-09-22',-2.434],['2017-09-27',-2.434],['2017-10-02',-2.415],['2017-10-05',-2.376],['2017-10-07',-2.298],['2017-10-11',-2.202],['2017-10-14',-2.153],['2017-10-20',-2.124],['2017-10-25',-2.095],['2017-10-30',-2.066],['2017-11-04',-2.047],['2017-11-09',-2.027],['2017-11-15',-2.017],['2017-11-20',-1.998],['2017-11-21',-1.969],['2017-11-24',-1.911],['2017-11-27',-1.833],['2017-11-28',-1.678],['2017-11-30',-1.64],['2017-12-02',-1.562],['2017-12-04',-1.523],['2017-12-07',-1.446],['2017-12-10',-1.291],['2017-12-11',-1.174],['2017-12-13',-1.019],['2017-12-14',-0.85],['2017-12-15',-0.826],['2017-12-18',-0.826],['2017-12-20',-0.816],['2017-12-23',-0.835],['2017-12-26',-0.855],['2017-12-28',-0.874],['2017-12-30',-0.893],['2018-01-01',-0.845],['2018-01-02',-0.709],['2018-01-04',-0.583],['2018-01-05',-0.651],['2018-01-07',-0.729],['2018-01-10',-0.797],['2018-01-12',-0.855],['2018-01-15',-0.903],['2018-01-17',-0.767],['2018-01-18',-0.651],['2018-01-20',-0.7],['2018-01-23',-0.758],['2018-01-25',-0.806],['2018-01-28',-0.845],['2018-01-31',-0.816],['2018-02-01',-0.632],['2018-02-03',-0.69],['2018-02-05',-0.767],['2018-02-08',-0.835],['2018-02-11',-0.864],['2018-02-13',-0.806],['2018-02-15',-0.835],['2018-02-17',-0.884],['2018-02-20',-0.961],['2018-02-23',-1.058],['2018-02-27',-1.155],['2018-03-02',-1.233],['2018-03-04',-1.262],['2018-03-06',-1.252],['2018-03-09',-1.077],['2018-03-10',-1.0],['2018-03-12',-0.942],['2018-03-14',-1.0],['2018-03-16',-0.903],['2018-03-18',-1.019],['2018-03-19',-1.039],['2018-03-21',-1.077],['2018-03-23',-1.116],['2018-03-26',-1.155],['2018-03-28',-1.136],['2018-03-29',-0.942],['2018-03-31',-0.981],['2018-04-02',-1.039],['2018-04-05',-1.116],['2018-04-09',-1.194],['2018-04-12',-1.252],['2018-04-16',-1.291],['2018-04-19',-1.329],['2018-04-23',-1.368],['2018-04-26',-1.407],['2018-04-30',-1.446],['2018-05-01',-1.339],['2018-05-03',-1.407],['2018-05-06',-1.465],['2018-05-08',-1.523],['2018-05-12',-1.562],['2018-05-15',-1.591],['2018-05-19',-1.62],['2018-05-22',-1.64],['2018-05-26',-1.659],['2018-05-28',-1.688],['2018-05-30',-1.601],['2018-06-02',-1.61],['2018-06-05',-1.62],['2018-06-08',-1.659],['2018-06-10',-1.678],['2018-06-16',-1.698],['2018-06-23',-1.736],['2018-06-30',-1.795],['2018-07-05',-1.835],['2018-07-12',-1.862],['2018-07-18',-1.891],['2018-07-23',-1.93],['2018-07-28',-1.969],['2018-08-01',-2.008],['2018-08-03',-2.01],['2018-08-04',-2.095],['2018-08-05',-2.047],['2018-08-09',-2.056],['2018-08-12',-2.066],['2018-08-16',-2.056],['2018-08-17',-2.047],['2018-08-18',-2.076],['2018-08-21',-2.085],['2018-08-22',-2.143],['2018-08-23',-2.076],['2018-08-28',-2.085],['2018-09-02',-2.105],['2018-09-05',-2.095],['2018-09-09',-2.114],['2018-09-14',-2.124],['2018-09-18',-2.134],['2018-09-19',-2.202],['2018-09-20',-2.105],['2018-09-23',-2.114],['2018-09-24',-2.124],['2018-09-28',-2.134],['2018-10-03',-2.143],['2018-10-10',-2.153],['2018-10-15',-2.163],['2018-10-22',-2.153],['2018-10-28',-2.143],['2018-10-29',-2.124],['2018-10-30',-2.076],['2018-11-03',-2.047],['2018-11-08',-2.008],['2018-11-14',-1.969],['2018-11-19',-1.93],['2018-11-24',-1.911],['2018-11-29',-1.882],['2018-12-02',-1.853],['2018-12-04',-1.8]];

const seriesData = [achter, berm, wei, bek9, wegberm, fukkink, steengroeve, oost, west];
const xTickDates = ['2017-05-01','2017-08-01','2017-11-01','2018-02-01','2018-05-01','2018-08-01','2018-11-01'];
const xRange = ['2017-04-10 17:30', '2018-12-05 00:45'];
const yRange = [-3, 1];

function toTime(s) {
  const m = s.match(/(\d+)-(\d+)-(\d+)(?:\s+(\d+):(\d+))?/);
  return new Date(+m[1], +m[2] - 1, +m[3], m[4] ? +m[4] : 0, m[5] ? +m[5] : 0).getTime();
}
function fmtDate(v) {
  const d = new Date(v); const p = n => String(n).padStart(2, '0');
  return p(d.getDate()) + '-' + p(d.getMonth() + 1) + '-' + d.getFullYear();
}
const xTickValues = xTickDates.map(toTime);
const FONT = "'Liberation Sans', Arial, sans-serif";

const chart = echarts.init(document.getElementById('chart'), null, {renderer: 'canvas'});

const legendTop = 10, rowH = 20.75, legendLeft = 55.5, legendW = 581, iconCol = 108.5;
const graphics = [{type: 'rect', z: 3, shape: {x: legendLeft, y: legendTop + 0.5, width: legendW, height: rowH * 9}, style: {fill: '#fff', stroke: '#222', lineWidth: 1}},
  {type: 'line', z: 3, shape: {x1: iconCol, y1: legendTop + 0.5, x2: iconCol, y2: legendTop + 0.5 + rowH * 9}, style: {stroke: '#222', lineWidth: 1}}];
for (let i = 1; i < 9; i++) {
  const yy = Math.round(legendTop + rowH * i) + 0.5;
  graphics.push({type: 'line', z: 3, shape: {x1: legendLeft, y1: yy, x2: legendLeft + legendW, y2: yy}, style: {stroke: '#666', lineWidth: 1}});
}

chart.setOption({
  animation: false,
  backgroundColor: '#fff',
  grid: {left: 44, right: 0, top: 16, bottom: 41, containLabel: false, outerBoundsMode: 'none'},
  legend: {
    orient: 'vertical', left: 56, top: legendTop, padding: 0, itemGap: 0,
    itemWidth: 51, itemHeight: 6, selectedMode: false, z: 4,
    textStyle: {fontFamily: FONT, fontSize: 13.4, color: '#000', lineHeight: rowH},
    data: seriesNames.map((n, i) => ({name: n, icon: 'path://M0,6L25,6L25,0L51,0',
      itemStyle: {color: 'rgba(0,0,0,0)', borderColor: seriesColors[i], borderWidth: 1}}))
  },
  graphic: graphics,
  xAxis: [{
    type: 'value', min: toTime(xRange[0]), max: toTime(xRange[1]),
    name: 'Time t', nameLocation: 'middle', nameGap: 29, nameMoveOverlap: false,
    nameTextStyle: {fontFamily: FONT, fontSize: 11, color: '#222'},
    axisLine: {show: true, onZero: false, lineStyle: {color: '#000', width: 1}},
    axisTick: {show: true, customValues: xTickValues, length: 4, lineStyle: {color: '#000'}},
    axisLabel: {customValues: xTickValues, formatter: v => fmtDate(v), fontFamily: FONT, fontSize: 11, color: '#222', margin: 9, hideOverlap: false},
    splitLine: {show: true, lineStyle: {type: [3, 3], color: '#555', width: 1}}
  }, {
    type: 'value', position: 'top', min: toTime(xRange[0]), max: toTime(xRange[1]),
    axisLine: {show: true, onZero: false, lineStyle: {color: '#000', width: 1}},
    axisTick: {show: false}, axisLabel: {show: false}, splitLine: {show: false}
  }],
  yAxis: {
    type: 'value', min: yRange[0], max: yRange[1], interval: 1,
    name: 'WATHTE [m] [MAAIVD] [GW] [m+Mv]', nameLocation: 'middle', nameGap: 24, nameRotate: 90, nameMoveOverlap: false,
    nameTextStyle: {fontFamily: FONT, fontSize: 9.4, color: '#222', padding: [0, 36, 0, 0]},
    axisLine: {show: true, onZero: false, lineStyle: {color: '#000', width: 1}},
    axisTick: {show: true, length: 6, lineStyle: {color: '#000'}},
    minorTick: {show: true, splitNumber: 5, length: 3, lineStyle: {color: '#000'}},
    axisLabel: {fontFamily: FONT, fontSize: 11, color: '#222', margin: 10,
      verticalAlignMaxLabel: 'top', verticalAlignMinLabel: 'bottom'},
    splitLine: {show: true, lineStyle: {type: [3, 3], color: '#555', width: 1}}
  },
  series: seriesNames.map((n, i) => ({
    name: n, type: 'line', data: seriesData[i].map(p => [toTime(p[0]), p[1]]), showSymbol: false, symbol: 'none',
    lineStyle: {width: 1, color: seriesColors[i]}, itemStyle: {color: seriesColors[i]},
    connectNulls: false, z: 2, emphasis: {disabled: true}
  }))
});
</script></body></html>
